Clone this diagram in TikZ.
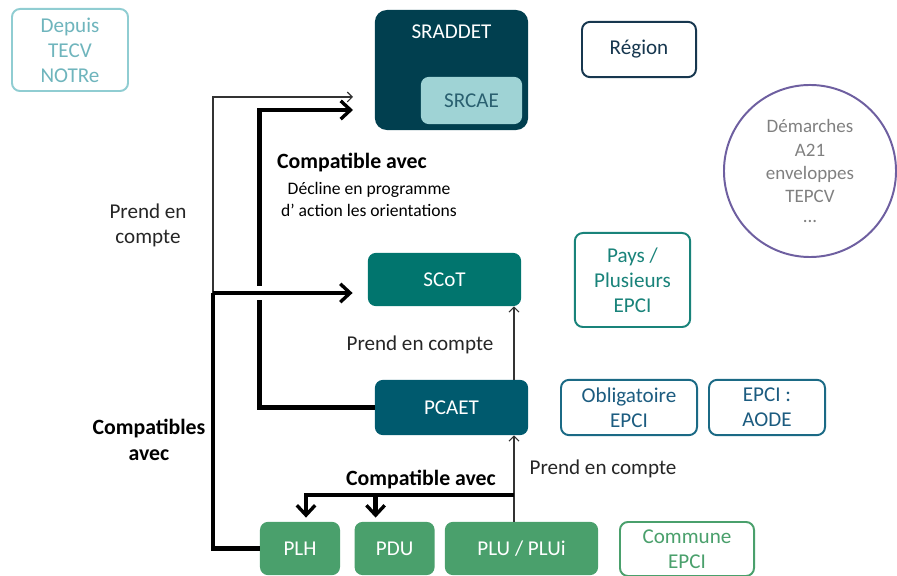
\documentclass[tikz,border=0pt]{standalone}
\usepackage{fontspec}
\setmainfont{Carlito}
\usetikzlibrary{calc,arrows.meta,positioning}

\definecolor{sraddetc}{HTML}{013F4F}
\definecolor{srcaec}{HTML}{9FD3D5}
\definecolor{srcaet}{HTML}{2A6070}
\definecolor{regionc}{HTML}{17374F}
\definecolor{depuisc}{HTML}{90CDD2}
\definecolor{depuist}{HTML}{6FB5BD}
\definecolor{demc}{HTML}{6E5FA0}
\definecolor{scotc}{HTML}{01756E}
\definecolor{paysc}{HTML}{19837A}
\definecolor{pcaetc}{HTML}{005A6E}
\definecolor{obligc}{HTML}{1B6A85}
\definecolor{obligt}{HTML}{1C5C80}
\definecolor{plhc}{HTML}{4AA06C}

\begin{document}
\begin{tikzpicture}[x=0.025cm, y=-0.025cm,
    every node/.style={font=\fontsize{15}{17.8}\selectfont, align=center, inner sep=0pt},
    docbox/.style={rectangle, rounded corners=0.2cm, minimum height=1.36cm},
    filledbox/.style={docbox, fill=#1, text=white},
    outlinebox/.style={docbox, draw=#1, line width=1.4pt, fill=white},
    lbl/.style={text=black!85},
    lblb/.style={text=black, font=\fontsize{15.5}{18.5}\selectfont\bfseries},
    lbls/.style={text=black, font=\fontsize{12.5}{15.6}\selectfont},
    bigline/.style={line width=3.4pt, black},
    bigarrow/.style={bigline, -{Straight Barb[length=7pt, width=13pt, line width=2.4pt]}},
    thinarrow/.style={line width=0.8pt, black!80, -{Straight Barb[length=3.5pt, width=7pt]}}]

    \useasboundingbox (0,0) rectangle (897,576);

    % Nodes
    \node[outlinebox=depuisc, text=depuist, minimum width=2.9cm, minimum height=2.05cm] (depuis) at (70,50) {Depuis\\TECV\\NOTRe};
    \node[filledbox=sraddetc, rounded corners=0.3cm, minimum width=3.83cm, minimum height=3cm,
          label={[anchor=north, text=white, yshift=-0.38cm]north:SRADDET}] (sraddet) at (451.5,70) {};
    \node[filledbox=srcaec, text=srcaet, minimum width=2.53cm, minimum height=1.18cm] (srcae) at (471.5,100.5) {SRCAE};
    \node[outlinebox=regionc, text=regionc, minimum width=2.85cm, minimum height=1.38cm] (region) at (639,49.5) {Région};
    \node[circle, draw=demc, line width=1.4pt, text=black!50, minimum size=4.3cm,
          font=\fontsize{13.5}{16.7}\selectfont] (demarches) at (810,171) {Démarches\\A21\\enveloppes\\TEPCV\\[-0.1cm]...};

    \node[filledbox=scotc, minimum width=3.83cm, minimum height=1.33cm] (scot) at (444.5,279.5) {SCoT};
    \node[outlinebox=paysc, text=paysc, minimum width=2.88cm, minimum height=2.35cm] (pays) at (632.5,280) {Pays /\\Plusieurs\\EPCI};

    \node[filledbox=pcaetc, minimum width=3.83cm, minimum height=1.38cm] (pcaet) at (451.5,407.5) {PCAET};
    \node[outlinebox=obligc, text=obligt, minimum width=3.4cm, minimum height=1.38cm] (oblig) at (629,407.5) {Obligatoire\\EPCI};
    \node[outlinebox=obligc, text=obligt, minimum width=2.9cm, minimum height=1.38cm] (aode) at (767,407.5) {EPCI :\\AODE};

    \node[filledbox=plhc, minimum width=2cm, minimum height=1.33cm] (plh) at (300,548.5) {PLH};
    \node[filledbox=plhc, minimum width=2cm, minimum height=1.33cm, right=0.35cm of plh] (pdu) {PDU};
    \node[filledbox=plhc, minimum width=3.83cm, minimum height=1.33cm] (plu) at (521.5,548.5) {PLU / PLUi};
    \node[outlinebox=plhc, text=plhc, minimum width=3.35cm, minimum height=1.35cm] (commune) at (687,549) {Commune\\EPCI};

    % Labels
    \node[lbl] (pec1) at (148,225) {Prend en\\compte};
    \node[lblb] (compat1) at (352,163) {Compatible avec};
    \node[lbls] (decline) at (369,199) {Décline en programme\\d’ action les orientations};
    \node[lbl] (pec2) at (420,345) {Prend en compte};
    \node[lbl] (pec3) at (603,469) {Prend en compte};
    \node[lblb] (compat2) at (421,480) {Compatible avec};
    \node[lblb] (compat3) at (149,440) {Compatibles\\avec};

    % Junctions
    \coordinate (jl) at (213,293);
    \coordinate (toSraddet) at (353,97);
    \coordinate (toSraddet2) at (353,110);
    \coordinate (jb) at (514,495);

    % Edges
    \draw[thinarrow] (jl) |- (toSraddet);
    \draw[bigarrow] (pcaet.west) -- ++(-115,0) |- (toSraddet2);
    \fill[white] (252,286) rectangle (268,300);
    \draw[bigline] (plh.west) -| (jl);
    \draw[bigarrow, shorten >=0.375cm] (jl) -- (jl -| scot.west);

    \draw[thinarrow] (plu.north -| jb) -- (pcaet.south -| jb);
    \draw[thinarrow] (pcaet.north -| jb) -- (scot.south -| jb);

    \draw[bigarrow, shorten >=0.1cm] (jb) -| ([xshift=0.15cm]plh.north);
    \draw[bigarrow, shorten >=0.1cm] ([xshift=-0.475cm]pdu.north |- jb) -- ([xshift=-0.475cm]pdu.north);

\end{tikzpicture}
\end{document}
